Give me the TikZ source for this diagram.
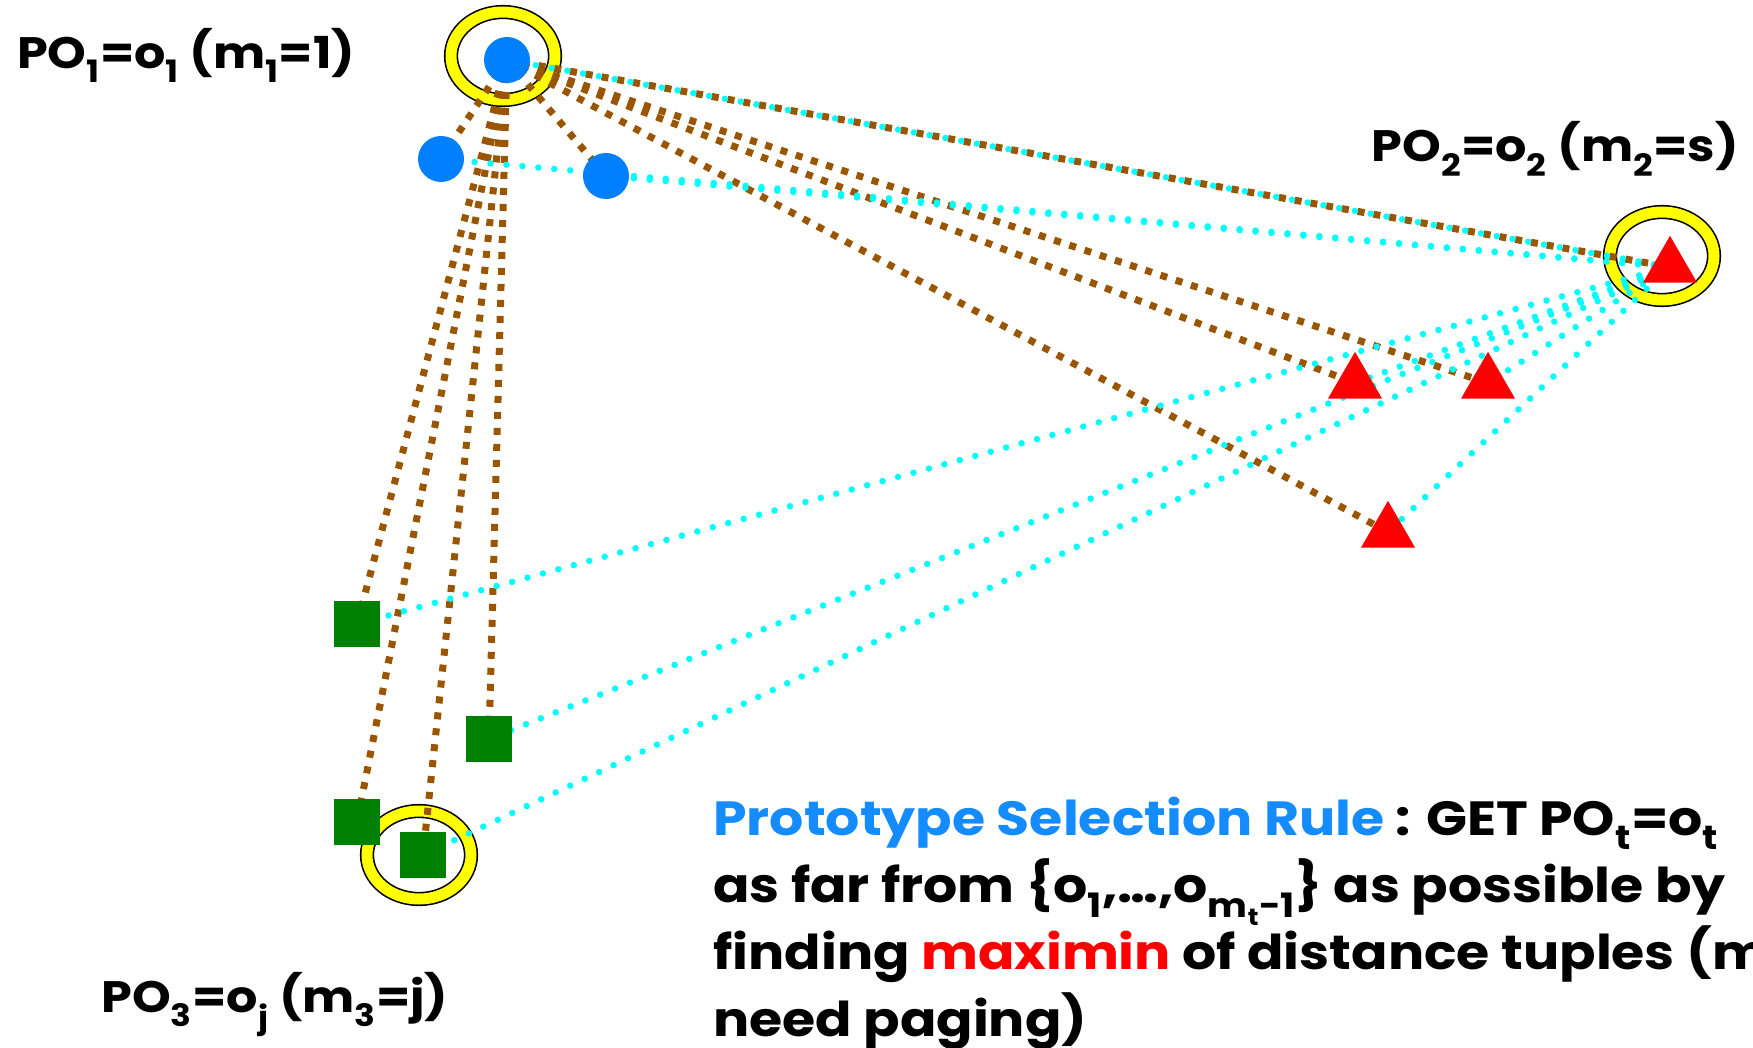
\documentclass[tikz,border=0pt]{standalone}
\usepackage{fontspec}
\setmainfont{Poppins}[FakeStretch=1.12]
\usetikzlibrary{shapes.geometric}
\definecolor{dotblue}{RGB}{0,128,255}
\definecolor{squaregreen}{RGB}{0,128,0}
\definecolor{linkbrown}{RGB}{153,85,0}
\definecolor{linkcyan}{RGB}{0,255,255}
\definecolor{ringyellow}{RGB}{255,255,0}
\definecolor{ruleblue}{RGB}{20,140,255}
\pgfdeclarelayer{rings}
\pgfdeclarelayer{links}
\pgfsetlayers{rings,links,main}
\begin{document}
\begin{tikzpicture}[x=1pt,y=-1pt,
  obj/.style={circle,fill=dotblue,minimum size=46pt,inner sep=0pt},
  tri/.style={regular polygon,regular polygon sides=3,fill=red,minimum size=62.4pt,inner sep=0pt},
  sq/.style={rectangle,fill=squaregreen,minimum size=46pt,inner sep=0pt},
  farlink/.style={draw=linkbrown,line width=7pt,dash pattern=on 7pt off 9pt},
  nearlink/.style={draw=linkcyan,line width=6.5pt,line cap=round,dash pattern=on 0pt off 16pt},
  ring/.style={ellipse,draw=black,line width=1.6pt,double=ringyellow,double distance=11pt,
    minimum width=104pt,minimum height=88pt,inner sep=0pt},
  lbl/.style={inner sep=0pt,font=\bfseries\fontsize{44}{46}\selectfont},
  ruletext/.style={anchor=base west,inner sep=0pt,font=\bfseries\fontsize{48}{52}\selectfont}]
\useasboundingbox (0,0) rectangle (1753,1048);
\clip (0,0) rectangle (1753,1048);

% objects of the first group (circles)
\node[obj] (o1) at (507,60) {};
\node[obj] (b2) at (441,159) {};
\node[obj] (b3) at (606,176) {};
% objects of the second group (triangles)
\node[tri] (o2) at (1670,267) {};
\node[tri] (ta) at (1355,383) {};
\node[tri] (tb) at (1488,383) {};
\node[tri] (tc) at (1388,532) {};
% objects of the third group (squares)
\node[sq] (s1) at (357,624) {};
\node[sq] (s2) at (489,739) {};
\node[sq] (s3) at (357,822) {};
\node[sq] (oj) at (423,855) {};

% rings marking the chosen prototypes
\begin{pgfonlayer}{rings}
  \node[ring] (r1) at (503,56) {};
  \node[ring] (r2) at (1662,256) {};
  \node[ring] (r3) at (419,855) {};
\end{pgfonlayer}

% distances from the prototypes
\begin{pgfonlayer}{links}
  \foreach \t in {b2,b3,o2,ta,tb,tc,s1,s2,s3,oj}
    \draw[farlink] (o1.center) -- (\t.center);
  \foreach \t in {o1,b2,b3,ta,tb,tc,s1,s2,oj}
    \draw[nearlink] (o2.center) -- (\t.center);
\end{pgfonlayer}

% prototype labels
\node[lbl,anchor=base west] (l1) at (17,69) {PO\textsubscript{1}=o\textsubscript{1} (m\textsubscript{1}=1)};
\node[lbl,anchor=base east] (l2) at (1739,162) {PO\textsubscript{2}=o\textsubscript{2} (m\textsubscript{2}=s)};
\node[lbl,anchor=base] (l3) at (275,1012) {PO\textsubscript{3}=o\textsubscript{j} (m\textsubscript{3}=j)};

% selection rule
\node[ruletext] (rule1) at (713,835) {\textcolor{ruleblue}{Prototype Selection Rule} : GET PO\textsubscript{t}=o\textsubscript{t}};
\node[ruletext] (rule2) at (713,902) {as far from \{o\textsubscript{1},…,o\textsubscript{m\textsubscript{t}-1}\} as possible by};
\node[ruletext] (rule3) at (713,969) {finding \textcolor{red}{maximin} of distance tuples (may};
\node[ruletext] (rule4) at (713,1036) {need paging)};
\end{tikzpicture}
\end{document}
